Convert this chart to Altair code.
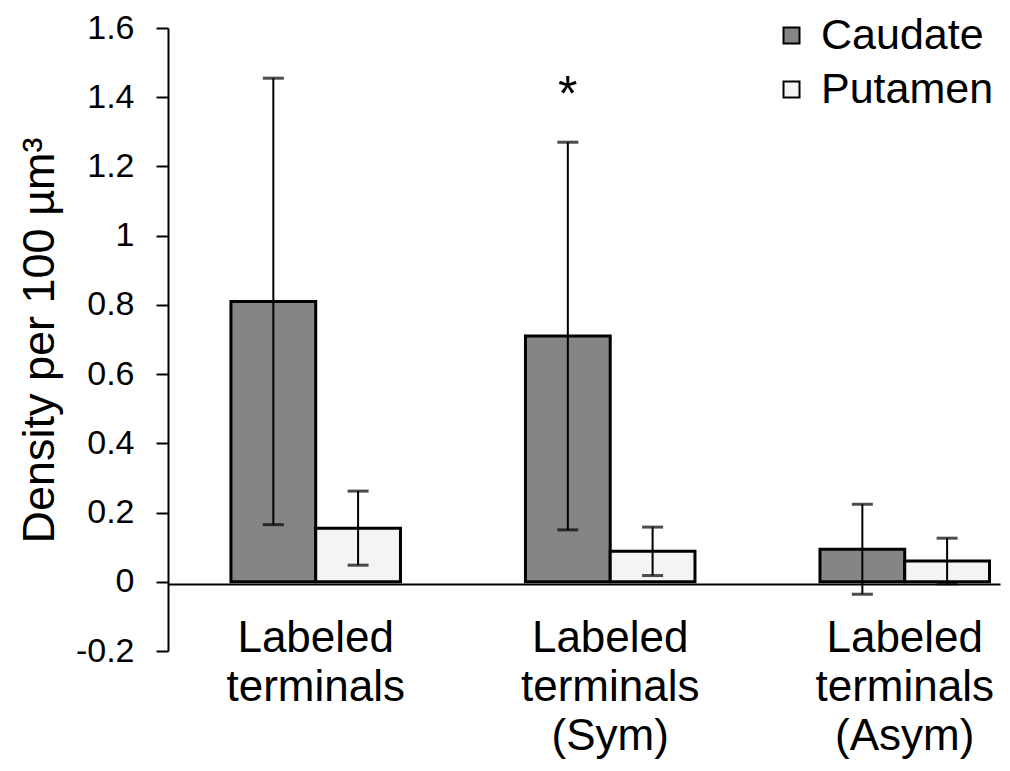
import altair as alt
import pandas as pd

# ---- data ----
categories = ["Labeled terminals", "Labeled terminals (Sym)", "Labeled terminals (Asym)"]
regions = ["Caudate", "Putamen"]
caudate_mean = [0.81, 0.71, 0.094]
caudate_err = [0.645, 0.56, 0.13]
putamen_mean = [0.155, 0.088, 0.06]
putamen_err = [0.107, 0.07, 0.066]
star_category = "Labeled terminals (Sym)"
star_region = "Caudate"
star_value = 1.36
y_ticks = [-0.2, 0, 0.2, 0.4, 0.6, 0.8, 1.0, 1.2, 1.4, 1.6]

FONT = "Liberation Sans"

rows = []
for cat, m, e in zip(categories, caudate_mean, caudate_err):
    rows.append({"category": cat, "region": "Caudate", "mean": m, "lo": m - e, "hi": m + e})
for cat, m, e in zip(categories, putamen_mean, putamen_err):
    rows.append({"category": cat, "region": "Putamen", "mean": m, "lo": m - e, "hi": m + e})
df = pd.DataFrame(rows)
star_df = pd.DataFrame([{"category": star_category, "region": star_region, "y": star_value}])

x_enc = alt.X(
    "category:N",
    sort=categories,
    scale=alt.Scale(paddingInner=0.4244, paddingOuter=0.1247, align=0.857),
    axis=alt.Axis(
        title=None,
        labelAngle=0,
        labelExpr="split(datum.label, ' ')",
        labelFont=FONT,
        labelFontSize=44,
        labelLineHeight=49,
        labelPadding=32,
        labelBaseline="top",
        labelColor="black",
        labelLimit=0,
        ticks=False,
        domainColor="black",
        domainWidth=2,
        offset=-67,
        labelOverlap=False,
    ),
)
xoff_enc = alt.XOffset("region:N", sort=regions, scale=alt.Scale(paddingInner=0, paddingOuter=0))
y_scale = alt.Scale(domain=[-0.2, 1.6], nice=False, zero=False)

y_axis = alt.Axis(
    title="Density per 100 µm³",
    titleFont=FONT,
    titleFontSize=45,
    titleFontWeight="normal",
    titleColor="black",
    titleX=-115,
    titleY=312,
    titleBaseline="alphabetic",
    titleAlign="center",
    titleAngle=270,
    values=y_ticks,
    labelExpr="toString(round(datum.value*10)/10)",
    labelFont=FONT,
    labelFontSize=34,
    labelColor="black",
    labelPadding=22,
    tickSize=12,
    tickWidth=2,
    tickColor="black",
    domainColor="black",
    domainWidth=2,
    grid=False,
)

bars = alt.Chart(df).mark_bar(stroke="black", strokeWidth=3).encode(
    x=x_enc,
    xOffset=xoff_enc,
    y=alt.Y("mean:Q", scale=y_scale, axis=y_axis),
    color=alt.Color(
        "region:N",
        sort=regions,
        scale=alt.Scale(domain=regions, range=["#858585", "#f4f4f4"]),
        legend=alt.Legend(
            title=None,
            orient="none",
            legendX=602,
            legendY=-14,
            symbolType="square",
            symbolSize=256,
            symbolStrokeColor="black",
            symbolStrokeWidth=2,
            labelFont=FONT,
            labelFontSize=43,
            labelColor="black",
            labelOffset=8,
            labelLimit=0,
            rowPadding=10,
            padding=0,
        ),
    ),
)

err = alt.Chart(df).mark_rule(color="black", strokeWidth=2).encode(
    x=x_enc, xOffset=xoff_enc, y=alt.Y("lo:Q", scale=y_scale), y2="hi:Q"
)
cap_lo = alt.Chart(df).mark_tick(color="black", thickness=3, size=21).encode(
    x=x_enc, xOffset=xoff_enc, y=alt.Y("lo:Q", scale=y_scale)
)
cap_hi = alt.Chart(df).mark_tick(color="black", thickness=3, size=21).encode(
    x=x_enc, xOffset=xoff_enc, y=alt.Y("hi:Q", scale=y_scale)
)
star = alt.Chart(star_df).mark_text(
    text="*", font=FONT, fontSize=50, baseline="alphabetic", align="center", color="black"
).encode(x=x_enc, xOffset=xoff_enc, y=alt.Y("y:Q", scale=y_scale))

chart = (
    alt.layer(bars, err, cap_lo, cap_hi, star)
    .properties(
        width=832,
        height=623,
        autosize=alt.AutoSizeParams(type="none"),
        padding={"left": 160, "top": 20, "right": 2, "bottom": 110},
        background="white",
    )
    .configure_view(stroke=None)
)

chart.save("out.html", embed_options={"renderer": "svg", "actions": False})
